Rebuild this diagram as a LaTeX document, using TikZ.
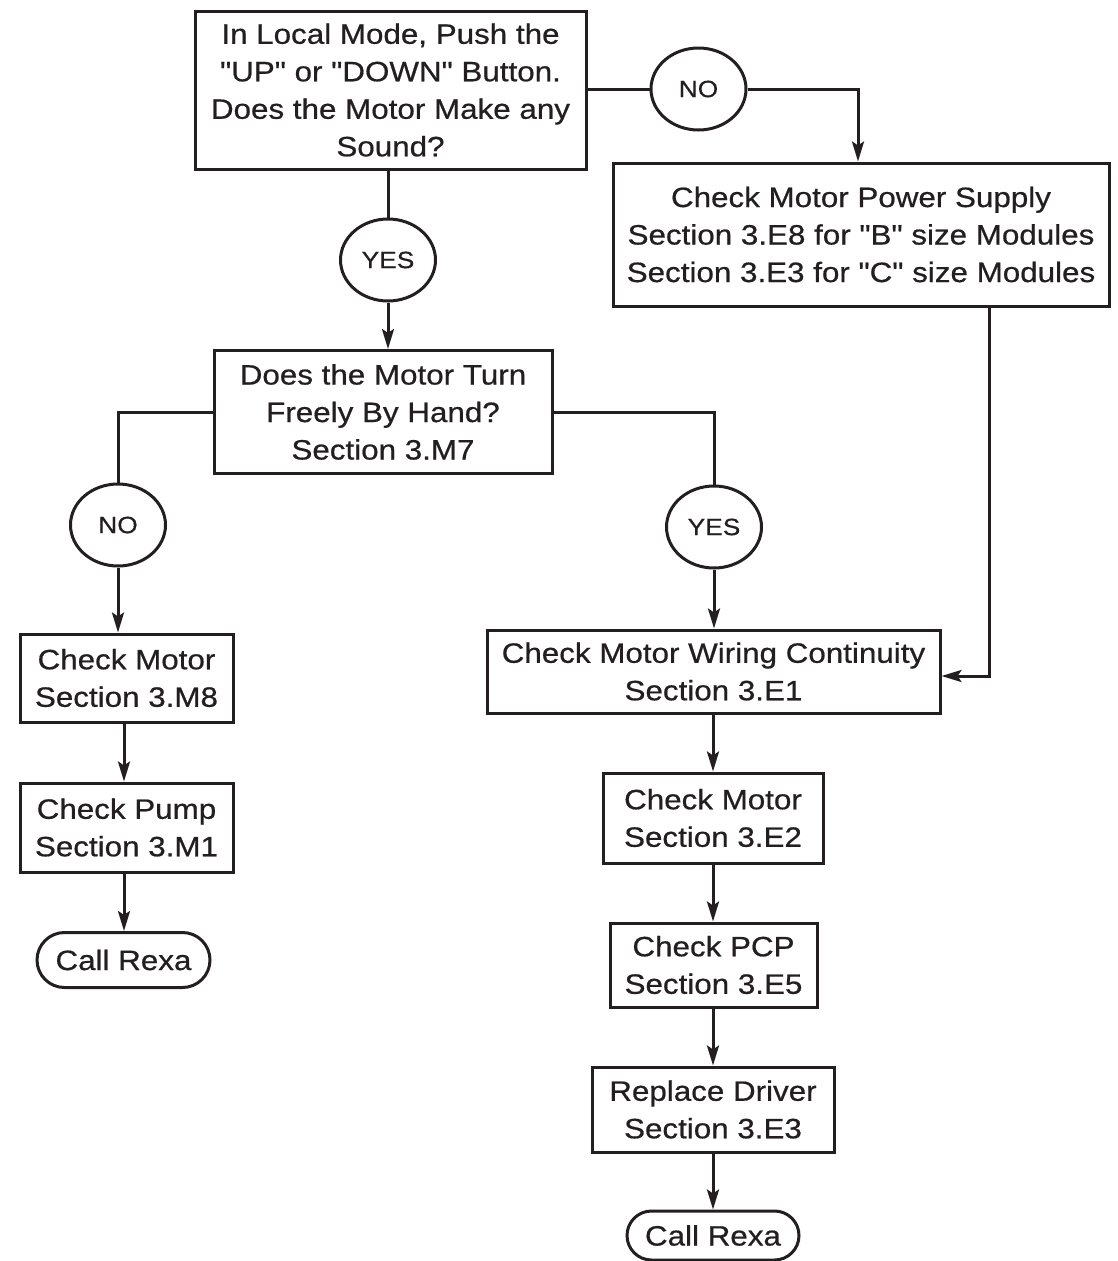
\documentclass[tikz,border=0pt]{standalone}
\usepackage{fontspec}
\setmainfont{Liberation Sans}[Ligatures=TeXOff,FakeStretch=1.12,FakeBold=0.6]
\usetikzlibrary{shapes.geometric,shapes.misc,arrows.meta}
\definecolor{ink}{HTML}{231F20}
\begin{document}
\begin{tikzpicture}[x=1pt,y=-1pt,
  every node/.style={text=ink},
  box/.style={draw=ink,line width=3pt,rectangle,inner sep=0pt,align=center,
    font=\fontsize{28}{37.5}\selectfont},
  term/.style={draw=ink,line width=3pt,rounded rectangle,inner sep=0pt,align=center,
    font=\fontsize{28}{37.5}\selectfont},
  dec/.style={draw=ink,line width=3pt,ellipse,inner sep=0pt,minimum width=95pt,minimum height=82pt,
    font=\fontsize{23.5}{28}\selectfont},
  conn/.style={draw=ink,line width=3pt},
  arr/.style={conn,-{Stealth[length=20pt,width=12pt,inset=4pt]}}]
\useasboundingbox (0,0) rectangle (1118,1261);
\fill[white] (0,0) rectangle (1118,1261);
% nodes
\node[box,minimum width=391pt,minimum height=158pt] (top) at (390.5,90)
  {In Local Mode, Push the\\"UP" or "DOWN" Button.\\Does the Motor Make any\\Sound?};
\node[dec] (no1) at (698.5,89) {NO};
\node[box,minimum width=496pt,minimum height=143pt] (pw) at (861,234.5)
  {Check Motor Power Supply\\Section 3.E8 for "B" size Modules\\Section 3.E3 for "C" size Modules};
\node[dec] (yes1) at (388,260) {YES};
\node[box,minimum width=338pt,minimum height=123pt] (turn) at (383,412)
  {Does the Motor Turn\\Freely By Hand?\\Section 3.M7};
\node[dec] (no2) at (118,525) {NO};
\node[dec] (yes2) at (714,527) {YES};
\node[box,minimum width=213pt,minimum height=88pt] (cm1) at (126.5,678)
  {Check Motor\\Section 3.M8};
\node[box,minimum width=213pt,minimum height=89pt] (pump) at (126.5,827.5)
  {Check Pump\\Section 3.M1};
\node[term,minimum width=173pt,minimum height=55pt] (rexa1) at (123.5,960) {Call Rexa};
\node[box,minimum width=453pt,minimum height=83pt] (wire) at (713.5,671.5)
  {Check Motor Wiring Continuity\\Section 3.E1};
\node[box,minimum width=220pt,minimum height=90pt] (cm2) at (713,818)
  {Check Motor\\Section 3.E2};
\node[box,minimum width=207pt,minimum height=84pt] (pcp) at (713.5,965)
  {Check PCP\\Section 3.E5};
\node[box,minimum width=242pt,minimum height=85pt] (drv) at (713,1109.5)
  {Replace Driver\\Section 3.E3};
\node[term,minimum width=172pt,minimum height=49pt] (rexa2) at (713,1235.5) {Call Rexa};
% connectors
\draw[conn] (no1.west -| top.east) -- (no1.west);
\coordinate (k1) at (858,89);
\draw[arr] (no1.east) -- (k1) -- (pw.north -| k1);
\draw[conn] (top.south -| yes1) -- (yes1.north);
\draw[arr] (yes1.south) -- (turn.north -| yes1);
\draw[conn] (turn.west) -| (no2.north);
\draw[conn] (turn.east) -| (yes2.north);
\draw[arr] (no2.south) -- (cm1.north -| no2);
\draw[arr] (yes2.south) -- (wire.north -| yes2);
\coordinate (k2) at (989,676);
\draw[arr] (pw.south -| k2) -- (k2) -- (wire.east |- k2);
\coordinate (k3) at (124,0);
\draw[arr] (cm1.south -| k3) -- (pump.north -| k3);
\draw[arr] (pump.south -| k3) -- (rexa1.north -| k3);
\draw[arr] (wire.south -| cm2) -- (cm2.north);
\draw[arr] (cm2.south) -- (pcp.north -| cm2);
\draw[arr] (pcp.south -| cm2) -- (drv.north);
\draw[arr] (drv.south) -- (rexa2.north);
\end{tikzpicture}
\end{document}
